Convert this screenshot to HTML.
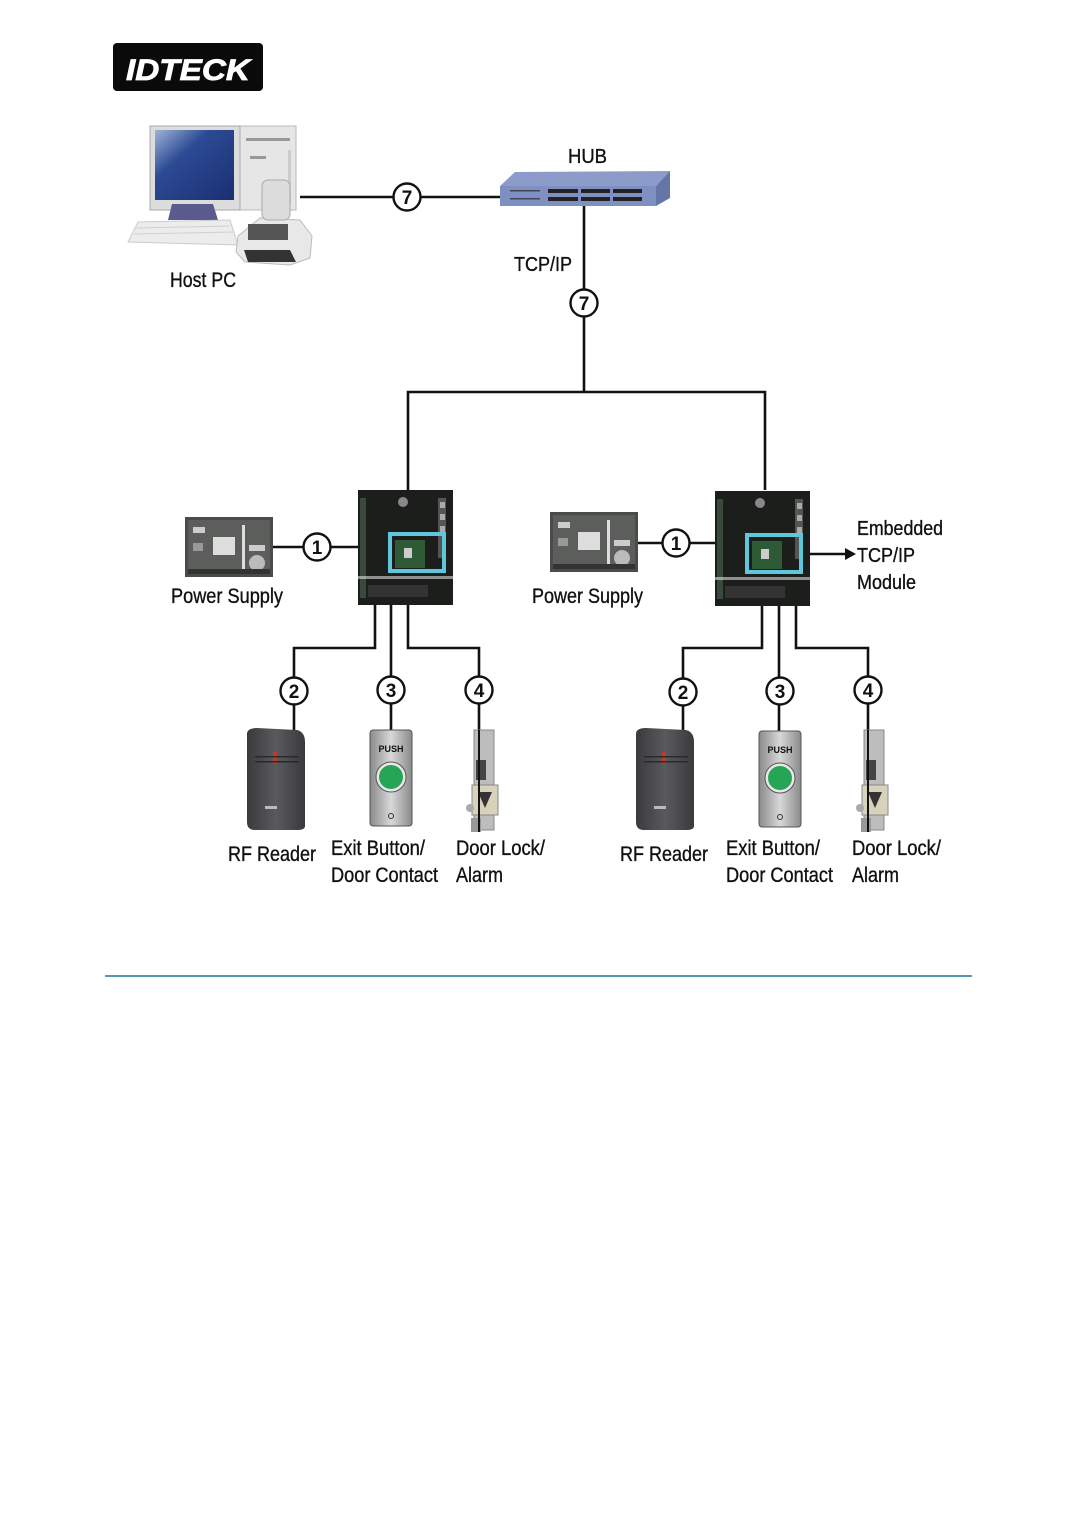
<!DOCTYPE html>
<html><head><meta charset="utf-8"><style>
html,body{margin:0;padding:0;background:#fff;}
svg{display:block;}
text{font-family:"Liberation Sans",sans-serif;fill:#111;}
.lbl text{stroke:#111;stroke-width:0.35;}
</style></head><body>
<svg width="1081" height="1513" viewBox="0 0 1081 1513" xmlns="http://www.w3.org/2000/svg">
<defs>
<linearGradient id="scr" x1="0" y1="0" x2="1" y2="1"><stop offset="0" stop-color="#9fb3d8"/><stop offset="0.35" stop-color="#2c4a94"/><stop offset="1" stop-color="#1a2f70"/></linearGradient>
<linearGradient id="rf" x1="0" y1="0" x2="1" y2="0"><stop offset="0" stop-color="#3a3a3c"/><stop offset="0.5" stop-color="#5a5a5e"/><stop offset="1" stop-color="#3a3a3c"/></linearGradient>
<linearGradient id="btn" x1="0" y1="0" x2="1" y2="0"><stop offset="0" stop-color="#8a8a8a"/><stop offset="0.5" stop-color="#d8d8d8"/><stop offset="1" stop-color="#8a8a8a"/></linearGradient>
<g id="ctrl">
<rect x="0" y="0" width="95" height="115" fill="#1c1e1c"/>
<rect x="2" y="8" width="6" height="100" fill="#3a4a3a"/>
<rect x="80" y="8" width="8" height="60" fill="#555"/>
<rect x="82" y="12" width="5" height="6" fill="#aaa"/><rect x="82" y="24" width="5" height="6" fill="#aaa"/><rect x="82" y="36" width="5" height="6" fill="#aaa"/>
<circle cx="45" cy="12" r="5" fill="#888"/>
<rect x="0" y="86" width="95" height="3" fill="#fff" opacity="0.5"/>
<rect x="37" y="50" width="30" height="28" fill="#2e5a36"/>
<rect x="46" y="58" width="8" height="10" fill="#ccc"/>
<rect x="32" y="44" width="54" height="37" fill="none" stroke="#5fc6dc" stroke-width="4"/>
<rect x="10" y="95" width="60" height="12" fill="#333"/>
</g>
<g id="ps">
<rect x="0" y="0" width="88" height="60" fill="#4a4c4a"/>
<rect x="3" y="3" width="82" height="54" fill="#5c5e5c"/>
<rect x="28" y="20" width="22" height="18" fill="#ddd"/>
<rect x="57" y="8" width="3" height="46" fill="#ddd"/>
<circle cx="72" cy="46" r="8" fill="#bbb"/>
<rect x="8" y="10" width="12" height="6" fill="#ccc"/><rect x="8" y="26" width="10" height="8" fill="#999"/>
<rect x="64" y="28" width="16" height="6" fill="#ccc"/>
<rect x="3" y="52" width="82" height="5" fill="#333"/>
</g>
<g id="rfr">
<path d="M2 6 Q2 0 12 0 L52 2 Q60 4 60 14 L60 98 Q60 102 52 102 L10 102 Q2 102 2 94 Z" fill="url(#rf)"/>
<rect x="28" y="24" width="4" height="12" fill="#c0392b"/>
<rect x="10" y="28" width="44" height="1.5" fill="#2a2a2a"/><rect x="10" y="33" width="44" height="1.5" fill="#2a2a2a"/>
<rect x="20" y="78" width="12" height="3" fill="#bbb"/>
</g>
<g id="exb">
<rect x="0" y="0" width="42" height="96" rx="3" fill="url(#btn)" stroke="#555"/>
<text x="21" y="22" font-size="9" font-weight="bold" text-anchor="middle" fill="#333">PUSH</text>
<circle cx="21" cy="47" r="15" fill="#e8e8e8" stroke="#555"/>
<circle cx="21" cy="47" r="12" fill="#27a556"/>
<circle cx="21" cy="86" r="2.5" fill="none" stroke="#333"/>
</g>
<g id="lock">
<rect x="8" y="0" width="20" height="100" fill="#bdbdbd" stroke="#888"/>
<rect x="10" y="30" width="10" height="20" fill="#444"/>
<rect x="6" y="55" width="26" height="30" fill="#d8d2bc" stroke="#888"/>
<path d="M12 62 L26 62 L19 78 Z" fill="#333"/>
<circle cx="4" cy="78" r="4" fill="#aaa"/>
<rect x="5" y="88" width="10" height="14" fill="#999"/>
</g>
</defs>

<!-- logo -->
<rect x="113" y="43" width="150" height="48" rx="4" fill="#0a0a0a"/>
<text x="188" y="80" font-size="30" font-weight="bold" font-style="italic" text-anchor="middle" style="fill:#fff;stroke:#fff;stroke-width:0.8" textLength="124" lengthAdjust="spacingAndGlyphs">IDTECK</text>

<!-- Host PC -->
<rect x="240" y="126" width="56" height="84" fill="#e6e6e6" stroke="#bbb"/>
<rect x="246" y="138" width="44" height="3" fill="#999"/>
<rect x="250" y="156" width="16" height="3" fill="#999"/>
<rect x="288" y="150" width="3" height="55" fill="#ccc"/>
<rect x="150" y="126" width="90" height="84" fill="#dcdcdc" stroke="#aaa"/>
<rect x="155" y="130" width="79" height="70" fill="url(#scr)"/>
<path d="M172 204 L213 204 L218 220 L168 220 Z" fill="#5b5a8e"/>
<path d="M138 222 L230 220 L238 245 L128 242 Z" fill="#ececec" stroke="#ccc"/>
<g stroke="#d0d0d0" stroke-width="1"><line x1="136" y1="228" x2="230" y2="226"/><line x1="134" y1="234" x2="233" y2="232"/></g>
<path d="M238 236 L260 218 L300 220 L312 236 L310 258 L290 265 L245 262 L236 252 Z" fill="#e8e8e8" stroke="#bbb"/>
<rect x="248" y="224" width="40" height="16" fill="#555"/>
<path d="M244 250 L290 250 L296 262 L248 262 Z" fill="#333"/>
<rect x="262" y="180" width="28" height="40" rx="6" fill="#dcdcdc" stroke="#aaa"/>
<g class="lbl">
<text x="170" y="287" font-size="21" textLength="66" lengthAdjust="spacingAndGlyphs">Host PC</text>
</g>

<g stroke="#111" stroke-width="2.6" fill="none">
<line x1="300" y1="197" x2="500" y2="197"/>
<line x1="584" y1="205" x2="584" y2="392"/>
<polyline points="408,490 408,392 765,392 765,490"/>
<line x1="273" y1="547" x2="358" y2="547"/>
<line x1="637" y1="543" x2="716" y2="543"/>
<polyline points="375,604 375,648 294,648 294,730"/>
<line x1="391" y1="604" x2="391" y2="731"/>
<polyline points="408,604 408,648 479,648 479,832"/>
<polyline points="762,604 762,648 683,648 683,730"/>
<line x1="779" y1="604" x2="779" y2="731"/>
<polyline points="796,604 796,648 868,648 868,832"/>
<line x1="802" y1="554" x2="846" y2="554"/>
</g>
<path d="M845 548 L856 554 L845 560 Z" fill="#111"/>

<!-- HUB -->
<path d="M500 186 L515 172 L670 171 L656 186 Z" fill="#8c9bc9"/>
<rect x="500" y="186" width="156" height="20" fill="#7e8fc2"/>
<path d="M656 186 L670 171 L670 198 L656 206 Z" fill="#6475a8"/>
<g fill="#222">
<rect x="548" y="189" width="94" height="4"/><rect x="548" y="197" width="94" height="4"/>
</g>
<g fill="#7e8fc2"><rect x="578" y="188" width="3" height="14"/><rect x="610" y="188" width="3" height="14"/></g>
<rect x="510" y="190" width="30" height="1.5" fill="#445"/><rect x="510" y="198" width="30" height="1.5" fill="#445"/>

<g class="lbl">
<text x="568" y="163" font-size="20" textLength="39" lengthAdjust="spacingAndGlyphs">HUB</text>
<text x="514" y="271" font-size="20" textLength="58" lengthAdjust="spacingAndGlyphs">TCP/IP</text>
</g>

<!-- circles -->
<g fill="#fff" stroke="#111" stroke-width="2.4">
<circle cx="407" cy="197" r="13.5"/><circle cx="584" cy="303" r="13.5"/>
<circle cx="317" cy="547" r="13.5"/><circle cx="676" cy="543" r="13.5"/>
<circle cx="294" cy="691" r="13.5"/><circle cx="391" cy="690" r="13.5"/><circle cx="479" cy="690" r="13.5"/>
<circle cx="683" cy="692" r="13.5"/><circle cx="780" cy="691" r="13.5"/><circle cx="868" cy="690" r="13.5"/>
</g>
<g font-size="19" font-weight="bold" text-anchor="middle">
<text x="407" y="204">7</text><text x="584" y="310">7</text>
<text x="317" y="554">1</text><text x="676" y="550">1</text>
<text x="294" y="698">2</text><text x="391" y="697">3</text><text x="479" y="697">4</text>
<text x="683" y="699">2</text><text x="780" y="698">3</text><text x="868" y="697">4</text>
</g>

<use href="#ctrl" x="358" y="490"/>
<use href="#ctrl" x="715" y="491"/>
<use href="#ps" x="185" y="517"/>
<use href="#ps" x="550" y="512"/>
<g class="lbl">
<text x="171" y="603" font-size="21" textLength="112" lengthAdjust="spacingAndGlyphs">Power Supply</text>
<text x="532" y="603" font-size="21" textLength="111" lengthAdjust="spacingAndGlyphs">Power Supply</text>
<text x="857" y="535" font-size="20" textLength="86" lengthAdjust="spacingAndGlyphs">Embedded</text>
<text x="857" y="562" font-size="20" textLength="58" lengthAdjust="spacingAndGlyphs">TCP/IP</text>
<text x="857" y="589" font-size="20" textLength="59" lengthAdjust="spacingAndGlyphs">Module</text>
</g>

<use href="#rfr" x="245" y="728"/>
<use href="#exb" x="370" y="730"/>
<use href="#lock" x="466" y="730"/>
<use href="#rfr" x="634" y="728"/>
<use href="#exb" x="759" y="731"/>
<use href="#lock" x="856" y="730"/>
<line x1="479" y1="730" x2="479" y2="832" stroke="#111" stroke-width="2"/>
<line x1="868" y1="730" x2="868" y2="832" stroke="#111" stroke-width="2"/>

<g font-size="21" class="lbl">
<text x="228" y="861" textLength="88" lengthAdjust="spacingAndGlyphs">RF Reader</text>
<text x="331" y="855" textLength="94" lengthAdjust="spacingAndGlyphs">Exit Button/</text>
<text x="331" y="882" textLength="107" lengthAdjust="spacingAndGlyphs">Door Contact</text>
<text x="456" y="855" textLength="89" lengthAdjust="spacingAndGlyphs">Door Lock/</text>
<text x="456" y="882" textLength="47" lengthAdjust="spacingAndGlyphs">Alarm</text>
<text x="620" y="861" textLength="88" lengthAdjust="spacingAndGlyphs">RF Reader</text>
<text x="726" y="855" textLength="94" lengthAdjust="spacingAndGlyphs">Exit Button/</text>
<text x="726" y="882" textLength="107" lengthAdjust="spacingAndGlyphs">Door Contact</text>
<text x="852" y="855" textLength="89" lengthAdjust="spacingAndGlyphs">Door Lock/</text>
<text x="852" y="882" textLength="47" lengthAdjust="spacingAndGlyphs">Alarm</text>
</g>

<line x1="105" y1="976" x2="972" y2="976" stroke="#1f7896" stroke-width="1.6"/>
</svg>
</body></html>
